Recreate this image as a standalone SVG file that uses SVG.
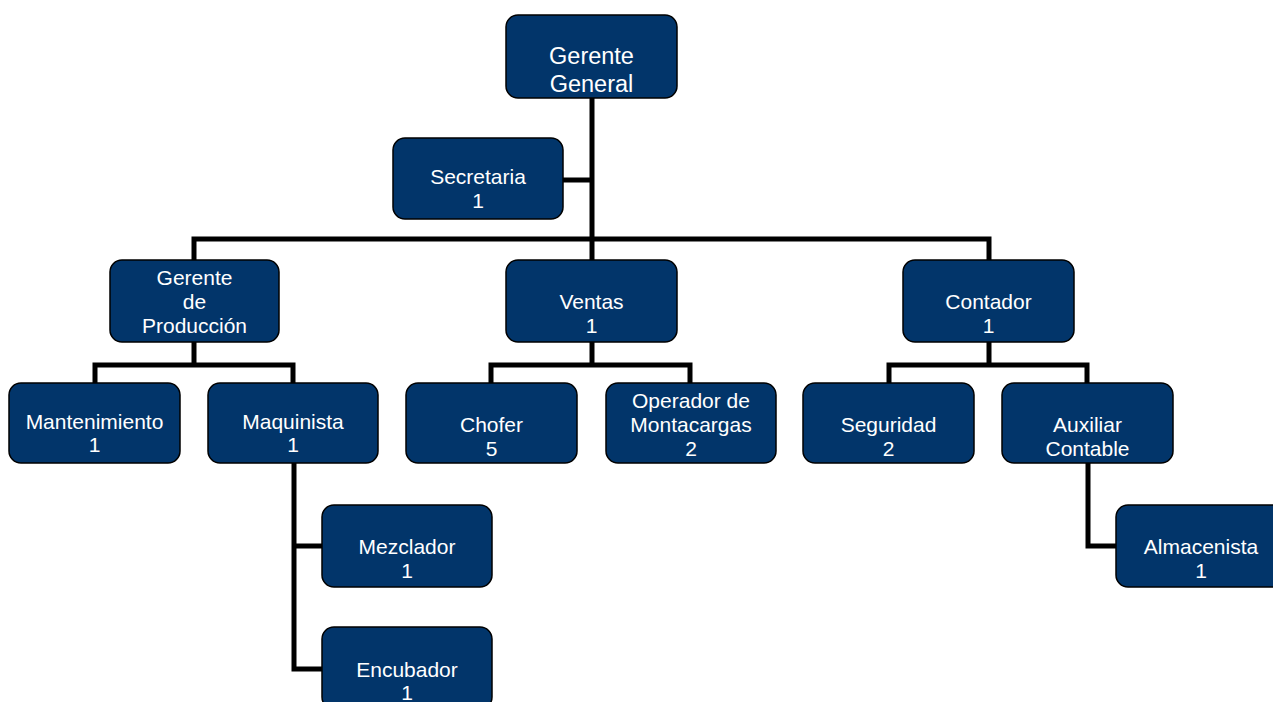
<svg xmlns="http://www.w3.org/2000/svg" width="1273" height="702" viewBox="0 0 1273 702">
<style>
.box{fill:#02356A;stroke:#000;stroke-width:1.5}
.t{fill:#fff;font-family:"Liberation Sans",Arial,sans-serif;font-size:21px;text-anchor:middle}
.big{font-size:23.5px}
.c{fill:none;stroke:#000;stroke-width:5;stroke-linejoin:miter;stroke-linecap:square}
</style>
<rect width="1273" height="702" fill="#fff"/>
<g id="connectors">
<path class="c" d="M592,98 V239 M563,180 H592 M194,260 V239 H989 V260 M592,239 V260"/>
<path class="c" d="M194,342 V365 M95,383 V365 H293 V383"/>
<path class="c" d="M592,342 V365 M491,383 V365 H690 V383"/>
<path class="c" d="M989,342 V365 M889,383 V365 H1087 V383"/>
<path class="c" d="M294,463 V669 H322 M294,546 H322"/>
<path class="c" d="M1088,463 V546 H1116"/>
</g>
<g id="gerente-general"><rect class="box" x="506" y="15" width="171" height="83" rx="12"/><text class="t big" x="591.5" y="64">Gerente</text><text class="t big" x="591.5" y="92">General</text></g>
<g id="secretaria"><rect class="box" x="393" y="138" width="170" height="81" rx="12"/><text class="t" x="478" y="184">Secretaria</text><text class="t" x="478" y="208">1</text></g>
<g id="gerente-produccion"><rect class="box" x="110" y="260" width="169" height="82" rx="12"/><text class="t" x="194.5" y="285">Gerente</text><text class="t" x="194.5" y="309">de</text><text class="t" x="194.5" y="333">Producción</text></g>
<g id="ventas"><rect class="box" x="506" y="260" width="171" height="82" rx="12"/><text class="t" x="591.5" y="309">Ventas</text><text class="t" x="591.5" y="333">1</text></g>
<g id="contador"><rect class="box" x="903" y="260" width="171" height="82" rx="12"/><text class="t" x="988.5" y="309">Contador</text><text class="t" x="988.5" y="333">1</text></g>
<g id="mantenimiento"><rect class="box" x="9" y="383" width="171" height="80" rx="12"/><text class="t" x="94.5" y="429">Mantenimiento</text><text class="t" x="94.5" y="452">1</text></g>
<g id="maquinista"><rect class="box" x="208" y="383" width="170" height="80" rx="12"/><text class="t" x="293" y="429">Maquinista</text><text class="t" x="293" y="452">1</text></g>
<g id="chofer"><rect class="box" x="406" y="383" width="171" height="80" rx="12"/><text class="t" x="491.5" y="432">Chofer</text><text class="t" x="491.5" y="456">5</text></g>
<g id="operador"><rect class="box" x="606" y="383" width="170" height="80" rx="12"/><text class="t" x="691" y="408">Operador de</text><text class="t" x="691" y="432">Montacargas</text><text class="t" x="691" y="456">2</text></g>
<g id="seguridad"><rect class="box" x="803" y="383" width="171" height="80" rx="12"/><text class="t" x="888.5" y="432">Seguridad</text><text class="t" x="888.5" y="456">2</text></g>
<g id="auxiliar"><rect class="box" x="1002" y="383" width="171" height="80" rx="12"/><text class="t" x="1087.5" y="432">Auxiliar</text><text class="t" x="1087.5" y="456">Contable</text></g>
<g id="mezclador"><rect class="box" x="322" y="505" width="170" height="82" rx="12"/><text class="t" x="407" y="554">Mezclador</text><text class="t" x="407" y="578">1</text></g>
<g id="encubador"><rect class="box" x="322" y="627" width="170" height="82" rx="12"/><text class="t" x="407" y="677">Encubador</text><text class="t" x="407" y="700">1</text></g>
<g id="almacenista"><rect class="box" x="1116" y="505" width="171" height="82" rx="12"/><text class="t" x="1201" y="554">Almacenista</text><text class="t" x="1201" y="578">1</text></g>
</svg>
